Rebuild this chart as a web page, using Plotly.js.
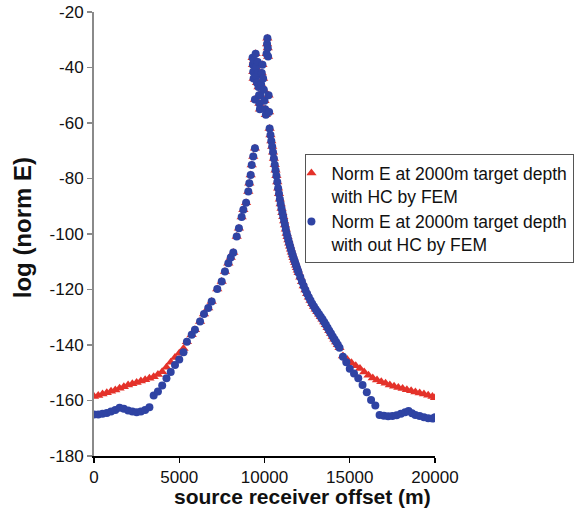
<!DOCTYPE html>
<html>
<head>
<meta charset="utf-8">
<script src="https://cdn.plot.ly/plotly-3.0.1.min.js"></script>
<style>html,body{margin:0;padding:0;background:#fff;}#chart{width:582px;height:513px;}</style>
</head>
<body>
<div id="chart"></div>
<script>
// ---- data ----
// red series (with HC) – far offset tails
var redLeftX = [0,250,500,750,1000,1250,1500,1750,2000,2250,2500,2750,3000,3250,3500,3750,4000,4250,4500,4750,5000,5250];
var redLeftY = [-158.6,-158.2,-157.7,-157.2,-156.7,-156.2,-155.6,-155.0,-154.4,-154.0,-153.5,-153.0,-152.5,-152.0,-151.4,-150.6,-149.6,-148.0,-146.2,-144.5,-143.0,-141.3];
var redRightX = [14600,14850,15100,15350,15600,15850,16100,16350,16600,16850,17100,17350,17600,17850,18100,18350,18600,18850,19100,19350,19600,19850,20000];
var redRightY = [-144.0,-145.2,-146.4,-147.5,-148.5,-149.7,-150.9,-151.9,-152.6,-153.2,-153.8,-154.4,-154.9,-155.3,-155.7,-156.1,-156.5,-156.9,-157.3,-157.7,-158.1,-158.6,-159.0];

// blue series (without HC) – far offset tails
var blueLeftX = [0,250,500,750,1000,1250,1500,1750,2000,2250,2500,2750,3000,3250,3500,3750,4000,4250,4500,4750,5000,5250];
var blueLeftY = [-165.0,-165.0,-164.8,-164.5,-164.0,-163.4,-162.6,-163.0,-163.6,-164.0,-164.2,-164.0,-163.4,-162.4,-158.2,-156.8,-154.6,-152.0,-149.7,-147.2,-145.2,-142.6];
var blueRightX = [14600,14800,15000,15250,15500,15750,16000,16250,16500,16750,17000,17250,17500,17750,18000,18250,18450,18650,18850,19100,19350,19600,19850,20000];
var blueRightY = [-144.2,-146.2,-148.6,-150.3,-152.0,-154.4,-157.0,-159.8,-161.8,-165.2,-165.5,-165.7,-165.6,-165.3,-164.8,-164.2,-163.8,-164.6,-165.2,-165.6,-166.0,-166.4,-166.5,-166.0];

// common part (both series coincide): rising branch, near-field cluster, decaying branch
var midX = [5450,5730,5920,6220,6450,6700,6900,7230,7490,7680,7880,8020,8170,8370,8500,8660,8760,8920,9050,9110,9190,9250,9340,9440,
  9300,9320,9340,9360,9380,9440,9480,9500,9520,9560,9600,9620,9650,9680,9700,9730,9760,9800,9840,9880,9920,9960,10000,10040,10080,10120,10150,10170,10190,10210,10240,10270,
  10300,10350,10400,10450,10500,10550,10600,10650,10700,10750,10800,10850,10900,10950,11000,11050,11100,11150,11200,11250,11300,11350,11400,11450,11500,11550,11600,11650,11700,11750,11800,11850,11900,11950,
  12000,12100,12200,12300,12400,12500,12600,12700,12800,12900,13000,13100,13200,13300,13400,13500,13600,13700,13800,13900,14000,14100,14200,14300,14400];
var midY = [-138.8,-136.3,-134.5,-131.5,-128.8,-126.7,-124.3,-119.8,-117.1,-113.5,-110.5,-108.5,-106.7,-100.9,-97.9,-93.9,-91.3,-88.7,-84.7,-81.7,-78.7,-75.1,-72.1,-69.1,
  -36.5,-39,-41.5,-44,-37.5,-51.5,-35,-40,-43,-45.5,-38,-42,-47,-50,-53,-55,-50,-46,-42,-39,-44,-48,-52,-55,-57,-35,-31.5,-29.5,-33,-36,-50,-56,
  -62,-64.3,-66.5,-68.5,-70.5,-72.8,-75,-77,-79,-81.3,-83.5,-85.5,-87.5,-89.2,-90.8,-92.3,-93.8,-95.3,-96.8,-98.3,-99.8,-101,-102.2,-103.3,-104.4,-105.5,-106.6,-107.6,-108.6,-109.5,-110.4,-111.3,-112.2,-113.1,
  -114,-115.6,-117.2,-118.7,-120.2,-121.5,-122.8,-124,-125.1,-126.1,-127.1,-128,-128.9,-129.8,-130.7,-131.7,-132.7,-133.8,-134.9,-135.9,-136.9,-137.9,-138.9,-139.9,-141.0];

var seriesNames = ['Norm E at 2000m target depth<br>with HC by FEM', 'Norm E at 2000m target depth<br>with out HC by FEM'];
var xTickVals = [0,5000,10000,15000,20000];
var yTickVals = [-180,-160,-140,-120,-100,-80,-60,-40,-20];
var xTitle = 'source receiver offset (m)';
var yTitle = 'log (norm E)';

// ---- chart ----
var FONT = 'Liberation Sans, Arial, Helvetica, sans-serif';
var red = {
  x: redLeftX.concat(midX, redRightX),
  y: redLeftY.concat(midY, redRightY),
  mode: 'markers', type: 'scatter', name: seriesNames[0],
  marker: {symbol: 'triangle-up', size: 9, color: '#e4322a'}
};
var blue = {
  x: blueLeftX.concat(midX, blueRightX),
  y: blueLeftY.concat(midY, blueRightY),
  mode: 'markers', type: 'scatter', name: seriesNames[1],
  marker: {symbol: 'circle', size: 8, color: '#2f43a3'}
};

var layout = {
  width: 582, height: 513,
  margin: {l: 94, r: 147, t: 12, b: 57, pad: 0, autoexpand: false},
  paper_bgcolor: '#fff', plot_bgcolor: '#fff',
  font: {family: FONT, color: '#111'},
  showlegend: true,
  legend: {
    x: 0.62, y: 0.68, xanchor: 'left', yanchor: 'top',
    bgcolor: '#fff', bordercolor: '#555', borderwidth: 1,
    font: {family: FONT, size: 17.5, color: '#111'},
    valign: 'top', indentation: -15, tracegroupgap: 6
  },
  xaxis: {
    range: [0, 20000], tickvals: xTickVals, ticktext: xTickVals.map(String),
    showgrid: false, zeroline: false,
    showline: true, linecolor: '#000', linewidth: 1.5,
    ticks: 'outside', ticklen: 5, tickwidth: 1.3, tickcolor: '#000',
    tickfont: {family: FONT, size: 17, color: '#111'}
  },
  yaxis: {
    range: [-180, -20], tickvals: yTickVals, ticktext: yTickVals.map(String),
    showgrid: false, zeroline: false,
    showline: true, linecolor: '#8a8a8a', linewidth: 2,
    ticks: 'outside', ticklen: 5, tickwidth: 1.3, tickcolor: '#8a8a8a',
    tickfont: {family: FONT, size: 17, color: '#111'}
  },
  annotations: [
    {text: '<b>' + xTitle + '</b>', xref: 'paper', yref: 'paper', x: 0.61, y: -0.091,
     xanchor: 'center', yanchor: 'middle', showarrow: false, font: {family: FONT, size: 21, color: '#111'}},
    {text: '<b>' + yTitle + '</b>', xref: 'paper', yref: 'paper', x: -0.211, y: 0.513, textangle: -90,
     xanchor: 'center', yanchor: 'middle', showarrow: false, font: {family: FONT, size: 24, color: '#111'}}
  ]
};

Plotly.newPlot('chart', [red, blue], layout, {displayModeBar: false, staticPlot: true});
</script>
</body>
</html>
